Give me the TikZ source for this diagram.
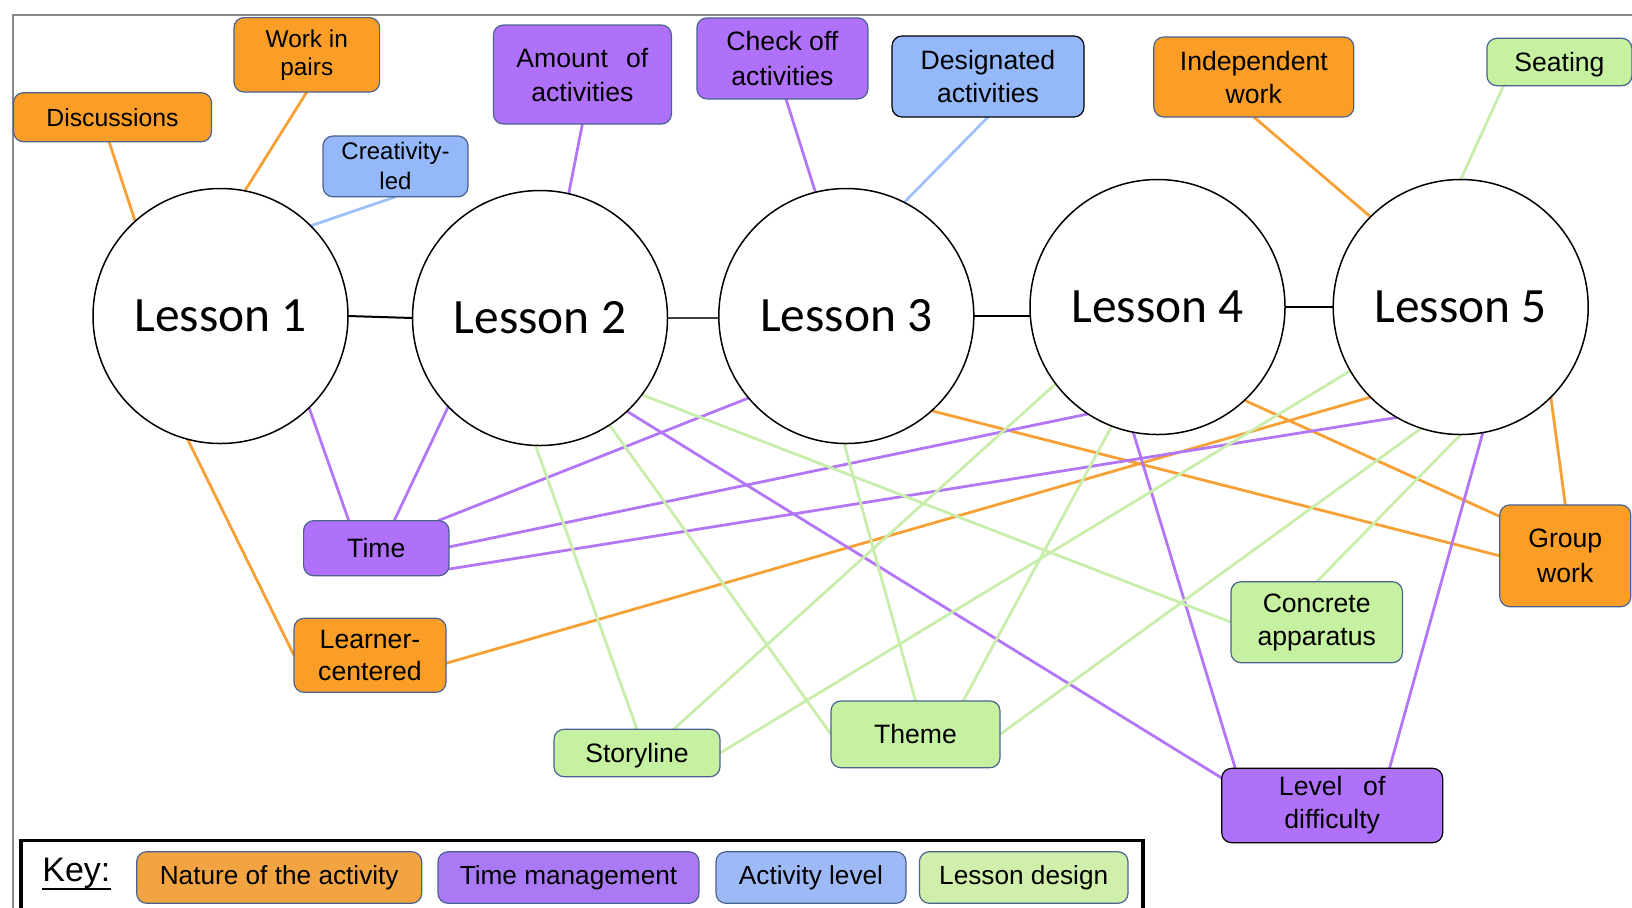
\documentclass[tikz,border=0pt]{standalone}
\usepackage{fontspec}
\setmainfont{Liberation Sans}
\newfontfamily\lessonfont{Carlito}
\usetikzlibrary{backgrounds}

% category colours: box fills, key fills and connector strokes
\definecolor{natfill}{HTML}{FA9E28}
\definecolor{timefill}{HTML}{B071FA}
\definecolor{actfill}{HTML}{94B8FA}
\definecolor{desfill}{HTML}{C6F1A0}
\definecolor{natkey}{HTML}{F2A443}
\definecolor{timekey}{HTML}{AA7AF5}
\definecolor{actkey}{HTML}{9DBAF7}
\definecolor{deskey}{HTML}{CFEFAA}
\definecolor{natline}{HTML}{F7A035}
\definecolor{timeline}{HTML}{B276F7}
\definecolor{actline}{HTML}{9FC1F9}
\definecolor{desline}{HTML}{C9EDAB}
\definecolor{tagedge}{HTML}{4A6290}
\definecolor{framegray}{HTML}{8A8A8A}

\begin{document}
\begin{tikzpicture}[x=0.5pt,y=-0.5pt,
  lesson/.style={circle, draw=black, line width=0.75pt, fill=white,
    minimum size=127.5pt, inner sep=0pt, outer sep=0pt,
    font=\lessonfont\fontsize{24.7}{28}\selectfont},
  tag/.style={rectangle, rounded corners=5pt, draw=tagedge, line width=0.6pt,
    align=center, inner sep=0pt, outer sep=0pt,
    font=\fontsize{13.3}{16.5}\selectfont},
  nat/.style={tag, fill=natfill},
  tim/.style={tag, fill=timefill},
  act/.style={tag, fill=actfill},
  des/.style={tag, fill=desfill},
  keybox/.style={tag, minimum height=25.8pt, font=\fontsize{13.1}{16}\selectfont},
  natlink/.style={draw=natline, line width=1.4pt},
  timlink/.style={draw=timeline, line width=1.4pt},
  actlink/.style={draw=actline, line width=1.4pt},
  deslink/.style={draw=desline, line width=1.4pt},
  chain/.style={draw=black, line width=1pt}
]
\useasboundingbox (0,0) rectangle (1632,907);

% outer frame
\draw[framegray, line width=0.6pt] (13,910) -- (13,15) -- (1640,15);

% the five lessons
\node[lesson] (L1) at (220.5,316) {Lesson 1};
\node[lesson] (L2) at (540,318) {Lesson 2};
\node[lesson] (L3) at (846.3,316) {Lesson 3};
\node[lesson] (L4) at (1157.5,307) {Lesson 4};
\node[lesson] (L5) at (1460.7,307) {Lesson 5};

% themes around the lessons
\node[nat, minimum width=99pt, minimum height=24.5pt, font=\fontsize{12.4}{14}\selectfont] (disc) at (112.5,117.2) {Discussions};
\node[nat, minimum width=72.8pt, minimum height=37.2pt, font=\fontsize{12.2}{14}\selectfont] (pairs) at (306.8,54.8) {Work in\\pairs};
\node[act, minimum width=72.5pt, minimum height=30.4pt, font=\fontsize{12}{15}\selectfont] (creat) at (395.5,166.4) {Creativity-\\led};
\node[tim, minimum width=89pt, minimum height=49.5pt, font=\fontsize{13.3}{17}\selectfont] (amount) at (582.4,74.5) {Amount\hspace{0.4em} of\\activities};
\node[tim, minimum width=85.5pt, minimum height=40.5pt, font=\fontsize{13.3}{17.5}\selectfont] (check) at (782.4,58.4) {Check off\\activities};
\node[act, draw=black, minimum width=96pt, minimum height=40.5pt] (desig) at (988,76.5) {Designated\\activities};
\node[nat, minimum width=100pt, minimum height=40pt] (indep) at (1253.8,77) {Independent\\work};
\node[des, minimum width=72.5pt, minimum height=23.7pt, text depth=0pt] (seat) at (1559.4,62) {Seating};
\node[tim, minimum width=72.7pt, minimum height=27.5pt] (time) at (376.3,548.2) {Time};
\node[nat, minimum width=76pt, minimum height=37pt, font=\fontsize{13.3}{16}\selectfont] (learner) at (370,655.3) {Learner-\\centered};
\node[des, minimum width=83pt, minimum height=23.7pt, text depth=0pt] (story) at (637,753) {Storyline};
\node[des, minimum width=84.5pt, minimum height=33.4pt] (theme) at (915.5,734.3) {\raisebox{-1pt}{Theme}};
\node[des, minimum width=85.7pt, minimum height=40.5pt] (concrete) at (1316.7,622.2) {Concrete\\apparatus};
\node[tim, draw=black, minimum width=110.5pt, minimum height=37.2pt] (level) at (1332.2,805.5) {Level\hspace{0.5em} of\\difficulty};
\node[nat, minimum width=65.5pt, minimum height=50.9pt, font=\fontsize{13.3}{17.5}\selectfont] (group) at (1565.3,555.8) {Group\\work};

% key
\node[anchor=base, inner sep=0pt, font=\fontsize{17}{20}\selectfont] (keylabel) at (76.4,881.7) {Key:};
\draw[line width=1.1pt] ([yshift=-3.6pt]keylabel.base west) -- ([yshift=-3.6pt]keylabel.base east);
\node[keybox, fill=natkey, minimum width=142.5pt] (knat) at (279.2,877.5) {Nature of the activity};
\node[keybox, fill=timekey, minimum width=130.5pt] (ktim) at (568.5,877.5) {Time management};
\node[keybox, fill=actkey, minimum width=95pt] (kact) at (811,877.5) {Activity level};
\node[keybox, fill=deskey, minimum width=104.3pt] (kdes) at (1023.7,877.5) {Lesson design};

\begin{pgfonlayer}{background}
  % key frame
  \draw[line width=1.8pt] (21,912) -- (21,840.5) -- (1143,840.5) -- (1143,912);

  % lesson chain
  \draw[chain] (L1.east) -- (L2.west);
  \draw[chain, draw=black!75] (L2.east) -- (L2.east -| L3.west);
  \draw[chain] (L3.east) -- (L3.east -| L4.west);
  \draw[chain] (L4.east) -- (L5.west);

  % nature of the activity
  \draw[natlink] (disc.262) -- (L1.132);
  \draw[natlink] (pairs.south) -- (L1.79);
  \draw[natlink] (L1.255) -- (learner.west);
  \draw[natlink] (learner.-6) -- (L5.225);
  \draw[natlink] (indep.south) -- (L5.135);
  \draw[natlink] (L5.-45) -- (group.north);
  \draw[natlink] (L4.-47) -- (group.149);
  \draw[natlink] (L3.-48) -- (group.west);

  % time management
  \draw[timlink] (amount.south) -- (L2.77);
  \draw[timlink] (check.275) -- (L3.104);
  \draw[timlink] (L1.-46) -- (time.135);
  \draw[timlink] (L2.224) -- (time.57);
  \draw[timlink] (L3.220) -- (time.24);
  \draw[timlink] (L4.237) -- (time.1);
  \draw[timlink] (L5.240) -- (time.-16);
  \draw[timlink] (L2.-47) -- (level.166);
  \draw[timlink] (L4.259) -- (level.159);
  \draw[timlink] (L5.280) -- (level.33);

  % activity level
  \draw[actlink] (creat.south) -- (L1.45);
  \draw[actlink] (desig.south) -- (L3.63);

  % lesson design
  \draw[deslink] (seat.203) -- (L5.90);
  \draw[deslink] (L2.268) -- (story.north);
  \draw[deslink] (L2.-57) -- (theme.west);
  \draw[deslink] (L2.-37) -- (concrete.west);
  \draw[deslink] (L3.269) -- (theme.north);
  \draw[deslink] (L4.217) -- (story.33);
  \draw[deslink] (L4.249) -- (theme.35);
  \draw[deslink] (L5.210) -- (story.east);
  \draw[deslink] (L5.252) -- (theme.east);
  \draw[deslink] (L5.270) -- (concrete.north);
\end{pgfonlayer}
\end{tikzpicture}
\end{document}
